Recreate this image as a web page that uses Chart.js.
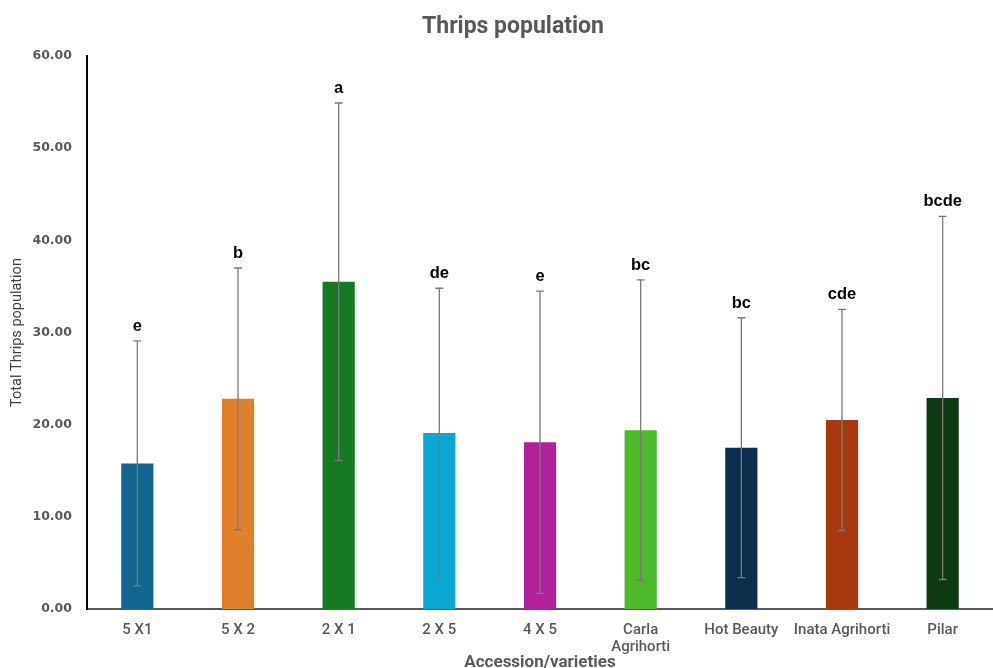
<!DOCTYPE html>
<html>
<head>
<meta charset="utf-8">
<title>Thrips population</title>
<script src="https://cdn.jsdelivr.net/npm/chart.js@4.4.1/dist/chart.umd.min.js"></script>
<style>
  html, body { margin: 0; padding: 0; background: #ffffff; }
  #wrap { width: 993px; height: 668px; position: relative; }
</style>
</head>
<body>
<div id="wrap"><canvas id="chart"></canvas></div>
<script>
// Accessions / varieties on the x axis
const categories = ['5 X1', '5 X 2', '2 X 1', '2 X 5', '4 X 5', ['Carla', 'Agrihorti'], 'Hot Beauty', 'Inata Agrihorti', 'Pilar'];
// Mean total thrips population per accession
const meanThrips = [15.8, 22.8, 35.5, 19.1, 18.1, 19.4, 17.5, 20.5, 22.9];
// Standard deviation (error bar half-length)
const sdThrips = [13.3, 14.2, 19.4, 15.7, 16.4, 16.3, 14.1, 12.0, 19.7];
// Mean separation letters
const sigLetters = ['e', 'b', 'a', 'de', 'e', 'bc', 'bc', 'cde', 'bcde'];
// Y axis ticks
const yTicks = [0, 10, 20, 30, 40, 50, 60];

const barColors = ['#13668f', '#e0812a', '#157a22', '#0aa8d0', '#b0219c', '#4db82a', '#0c2f4e', '#a63a0e', '#0c3a12'];

const narrow = '"Roboto", "Liberation Sans", sans-serif';

// Error bars with caps, plus letters above each cap
const errorBarsPlugin = {
  id: 'errorBars',
  afterDatasetsDraw(chart) {
    const ctx = chart.ctx;
    const y = chart.scales.y;
    const meta = chart.getDatasetMeta(0);
    ctx.save();
    meta.data.forEach((bar, i) => {
      const x = bar.x;
      const top = y.getPixelForValue(meanThrips[i] + sdThrips[i]);
      const bot = y.getPixelForValue(meanThrips[i] - sdThrips[i]);
      ctx.strokeStyle = '#7a7a7a';
      ctx.lineWidth = 1.3;
      ctx.beginPath();
      ctx.moveTo(x, top); ctx.lineTo(x, bot);
      ctx.moveTo(x - 4, top); ctx.lineTo(x + 4, top);
      ctx.moveTo(x - 4, bot); ctx.lineTo(x + 4, bot);
      ctx.stroke();
      ctx.fillStyle = '#000000';
      ctx.font = 'bold 16.5px "Liberation Sans", Arial, sans-serif';
      ctx.textAlign = 'center';
      ctx.textBaseline = 'alphabetic';
      ctx.fillText(sigLetters[i], x, top - 10);
    });
    ctx.restore();
  }
};

// Chart heading
const headingPlugin = {
  id: 'heading',
  afterDraw(chart) {
    const ctx = chart.ctx;
    ctx.save();
    ctx.fillStyle = '#595959';
    ctx.font = 'bold 23px ' + narrow;
    ctx.textAlign = 'center';
    ctx.textBaseline = 'middle';
    ctx.fillText('Thrips population', 513, 27);
    ctx.restore();
  }
};

new Chart(document.getElementById('chart'), {
  type: 'bar',
  data: {
    labels: categories,
    datasets: [{
      label: 'Total Thrips population',
      data: meanThrips,
      backgroundColor: barColors,
      borderWidth: 0,
      barPercentage: 0.32,
      categoryPercentage: 1.0
    }]
  },
  options: {
    responsive: true,
    maintainAspectRatio: false,
    animation: false,
    layout: { padding: { top: 56, right: 0, left: 0, bottom: 0 } },
    plugins: {
      legend: { display: false },
      tooltip: { enabled: false },
      title: { display: false }
    },
    scales: {
      x: {
        grid: { display: false },
        border: { display: true, color: '#595959', width: 2 },
        ticks: {
          color: '#595959',
          font: { family: narrow, size: 15, weight: '500', lineHeight: 1.1 },
          maxRotation: 0,
          autoSkip: false,
          padding: 5
        },
        title: {
          display: true,
          text: 'Accession/varieties',
          color: '#595959',
          font: { family: narrow, size: 17, weight: 'bold' },
          padding: { top: 0, bottom: -5 }
        },
        afterFit(scale) { scale.height = 59; }
      },
      y: {
        min: 0,
        max: 60,
        afterBuildTicks(scale) { scale.ticks = yTicks.map(v => ({ value: v })); },
        grid: { display: false },
        border: { display: true, color: '#000000', width: 2 },
        ticks: {
          color: '#595959',
          font: { family: '"DejaVu Sans", sans-serif', size: 12.5, weight: 'bold' },
          padding: 7,
          callback: v => Number(v).toFixed(2)
        },
        title: {
          display: true,
          text: 'Total Thrips population',
          color: '#404040',
          font: { family: narrow, size: 14.5 },
          padding: { top: 9, bottom: 0 }
        },
        afterFit(scale) { scale.width = 87; }
      }
    }
  },
  plugins: [errorBarsPlugin, headingPlugin]
});
</script>
</body>
</html>
